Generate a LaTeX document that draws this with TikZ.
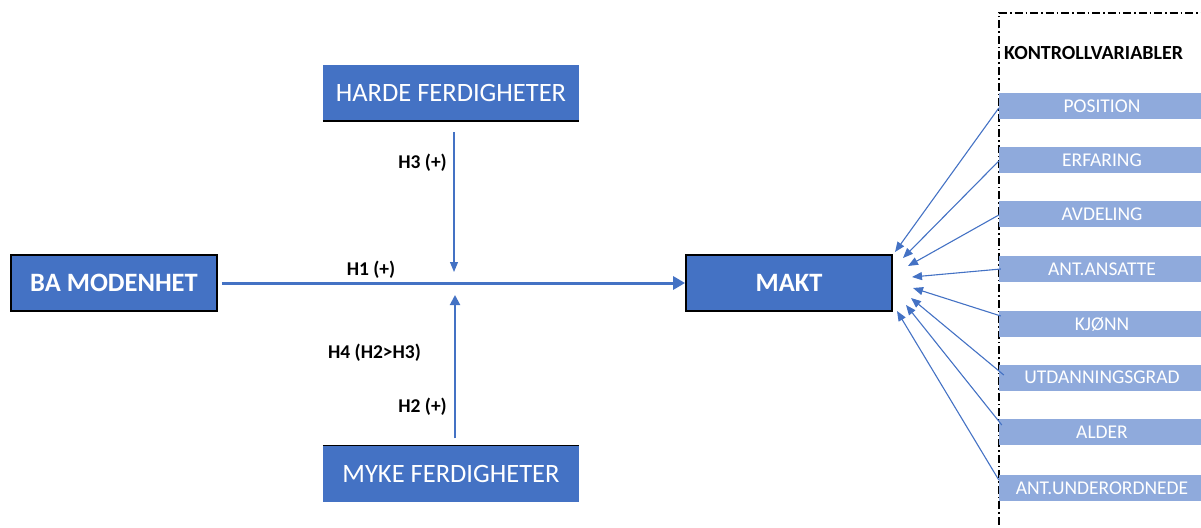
\documentclass[tikz,border=0pt]{standalone}
\usepackage{fontspec}
\setmainfont{Carlito}
\usetikzlibrary{arrows.meta}
\definecolor{dblue}{HTML}{4472C4}
\definecolor{lblue}{HTML}{8FAADC}
\tikzset{
  mainbox/.style={fill=dblue, draw=black, line width=1.8pt, text=white, font=\fontsize{26.5}{30}\selectfont\bfseries, minimum width=206pt, minimum height=56pt, inner sep=0pt},
  skillbox/.style={fill=dblue, draw=none, text=white, font=\fontsize{26.5}{30}\selectfont, minimum width=256pt, minimum height=56pt, inner sep=0pt},
  ctrlbox/.style={fill=lblue, draw=none, text=white, font=\fontsize{19.5}{22}\selectfont, minimum width=206pt, minimum height=26pt, inner sep=0pt},
  hlabel/.style={text=black, font=\fontsize{19.5}{22}\selectfont\bfseries, inner sep=0pt},
  thinarrow/.style={draw=dblue, line width=1.1pt, -{Triangle[length=10pt,width=8pt]}},
  thickarrow/.style={draw=dblue, line width=3pt, -{Triangle[length=12pt,width=13pt]}},
  midarrow/.style={draw=dblue, line width=2pt, -{Triangle[length=10pt,width=10pt]}},
}
\begin{document}
\begin{tikzpicture}[x=1pt,y=-1pt]
\useasboundingbox (0,0) rectangle (1201,527);
% control frame
\draw[black, line width=1.2pt, dash pattern=on 8pt off 3pt on 1.5pt off 3pt] (999,540) -- (999,13) -- (1215,13);
% main boxes
\node[mainbox] (ba) at (114,283) {BA MODENHET};
\node[mainbox] (makt) at (789,283) {MAKT};
\node[skillbox] (harde) at (451,93) {HARDE FERDIGHETER};
\node[skillbox] (myke) at (451,473.5) {MYKE FERDIGHETER};
\draw[black, line width=1.5pt] (harde.south west) -- (harde.south east);
\draw[black, line width=1.5pt] (myke.north west) -- (myke.north east);
% H arrows
\draw[thickarrow, shorten <=4pt] (ba.east) -- (makt.west);
\coordinate (h3tip) at (454,272);
\coordinate (h2tip) at (455,295);
\draw[thinarrow, shorten <=11pt] (harde.south -| h3tip) -- (h3tip);
\draw[midarrow, shorten <=7pt] (myke.north -| h2tip) -- (h2tip);
% labels
\node[hlabel] (l1) at (371,270) {H1 (+)};
\node[hlabel, anchor=east] (l3) at (447,163) {H3 (+)};
\node[hlabel] (l4) at (374.5,353) {H4 (H2>H3)};
\node[hlabel, anchor=east] (l2) at (447,407) {H2 (+)};
\node[hlabel, anchor=west, font=\fontsize{20}{24}\selectfont\bfseries] (kv) at (1004,53) {KONTROLLVARIABLER};
% control variables
\node[ctrlbox] (c1) at (1102,106) {POSITION};
\node[ctrlbox] (c2) at (1102,160) {ERFARING};
\node[ctrlbox] (c3) at (1102,214) {AVDELING};
\node[ctrlbox] (c4) at (1102,269) {ANT.ANSATTE};
\node[ctrlbox] (c5) at (1102,324) {KJØNN};
\node[ctrlbox] (c6) at (1102,377.5) {UTDANNINGSGRAD};
\node[ctrlbox] (c7) at (1102,432) {ALDER};
\node[ctrlbox] (c8) at (1102,488) {ANT.UNDERORDNEDE};
% arrow tips near MAKT
\coordinate (t1) at (895,252);
\coordinate (t2) at (903,258);
\coordinate (t3) at (908,266);
\coordinate (t4) at (912,277);
\coordinate (t5) at (913,288);
\coordinate (t6) at (911,298);
\coordinate (t7) at (906,305);
\coordinate (t8) at (897,311);
\draw[thinarrow] ([yshift=-2pt]c1.west) -- (t1);
\draw[thinarrow] ([yshift=-1pt]c2.west) -- (t2);
\draw[thinarrow] ([yshift=-1pt]c3.west) -- (t3);
\draw[thinarrow] ([xshift=2pt]c4.west) -- (t4);
\draw[thinarrow] ([shift={(2pt,8pt)}]c5.west) -- (t5);
\draw[thinarrow] ([shift={(5pt,2.5pt)}]c6.west) -- (t6);
\draw[thinarrow] ([shift={(3pt,7pt)}]c7.west) -- (t7);
\draw[thinarrow] ([yshift=8pt]c8.west) -- (t8);
\end{tikzpicture}
\end{document}
